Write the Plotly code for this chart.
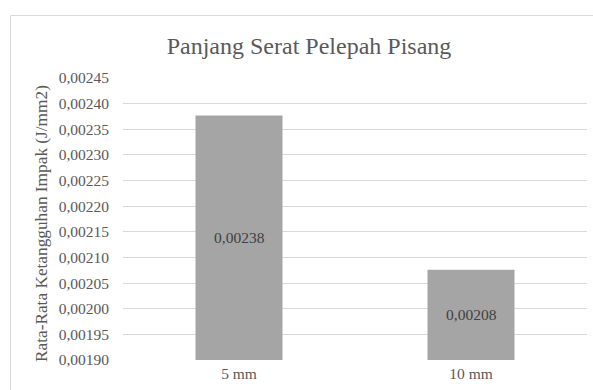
import plotly.graph_objects as go

categories = ["5 mm", "10 mm"]
values = [0.002377, 0.002076]
axis_min, axis_max = 0.00190, 0.00245
tick_values = [0.00190, 0.00195, 0.00200, 0.00205, 0.00210, 0.00215, 0.00220,
               0.00225, 0.00230, 0.00235, 0.00240, 0.00245]
bar_labels = [f"{v:.5f}".replace(".", ",") for v in values]
y_title = "Rata-Rata Ketangguhan Impak (J/mm2)"
chart_title = "Panjang Serat Pelepah Pisang"

FONT = "Liberation Serif, Times New Roman, serif"
GREY_TXT = "#595959"

L, R, T, B = 123, 6, 78, 30
W, H = 593, 390
pw, ph = W - L - R, H - T - B

def px_x(p):
    return (p - L) / pw

def px_y(p):
    return (H - B - p) / ph

fig = go.Figure()
fig.add_trace(go.Bar(
    x=categories, y=values,
    marker=dict(color="#a5a5a5", line=dict(width=0)),
    width=0.375,
    hoverinfo="skip",
))

# data labels centred in the visible part of each bar
for cat, v, lab in zip(categories, values, bar_labels):
    fig.add_annotation(x=cat, y=(axis_min + v) / 2, text=lab, showarrow=False,
                       xref="x", yref="y",
                       font=dict(family=FONT, size=15.5, color="#404040"))

# y-axis title
fig.add_annotation(x=px_x(41), y=px_y(224), xref="paper", yref="paper",
                   text=y_title, textangle=-90, showarrow=False,
                   xanchor="center", yanchor="middle",
                   font=dict(family=FONT, size=17.3, color=GREY_TXT))

fig.update_layout(
    width=W, height=H,
    margin=dict(l=L, r=R, t=T, b=B),
    paper_bgcolor="white",
    plot_bgcolor="white",
    separators=",.",
    showlegend=False,
    title=dict(text=chart_title,
               font=dict(family=FONT, size=24, color=GREY_TXT),
               xref="container", x=309 / W, xanchor="center",
               yref="container", y=1 - 46 / H, yanchor="middle"),
    xaxis=dict(showgrid=False, showline=False, zeroline=False, ticks="",
               ticklabelstandoff=2,
               tickfont=dict(family=FONT, size=15.5, color=GREY_TXT)),
    yaxis=dict(range=[axis_min, axis_max], tickvals=tick_values, tickformat=".5f",
               showgrid=True, gridcolor="#d9d9d9", gridwidth=1,
               zeroline=False, showline=False, ticks="",
               ticklabelstandoff=13,
               tickfont=dict(family=FONT, size=15.5, color=GREY_TXT)),
    bargap=0.625,
)

fig.add_shape(type="rect", xref="paper", yref="paper",
              x0=px_x(10.5), x1=px_x(600), y0=px_y(400), y1=px_y(15.5),
              line=dict(color="#d9d9d9", width=1), fillcolor="rgba(0,0,0,0)",
              layer="below")

fig.write_html("out.html")
